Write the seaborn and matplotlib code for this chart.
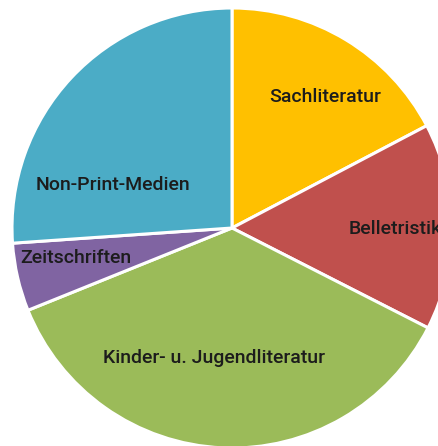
import numpy as np
import matplotlib.pyplot as plt
import seaborn as sns

categories = ["Sachliteratur", "Belletristik", "Kinder- u. Jugendliteratur",
              "Zeitschriften", "Non-Print-Medien"]
shares = [17.3, 15.2, 36.4, 5.0, 26.1]
colors = ["#FFC000", "#C0504D", "#9BBB59", "#8064A2", "#4BACC6"]

# where the labels sit (data units, pie radius = 1)
label_pos = [(0.423, 0.595), (0.532, -0.005), (-0.08, -0.59), (-0.709, -0.136), (-0.541, 0.195)]
label_ha = ["center", "left", "center", "center", "center"]


def main():
    sns.set_style("white")
    plt.rcParams['font.family'] = ['Roboto', 'DejaVu Sans']

    fig = plt.figure(figsize=(4.39, 4.46), dpi=100)
    ax = fig.add_axes([0, 0, 1, 1])
    wedges, texts = ax.pie(shares, labels=categories, colors=sns.color_palette(colors),
                           startangle=90, counterclock=False, radius=1.0,
                           wedgeprops=dict(edgecolor="white", linewidth=2.2),
                           labeldistance=0.6)
    for t, (x, y), ha in zip(texts, label_pos, label_ha):
        t.set_position((x, y))
        t.set_ha(ha)
        t.set_va("center")
        t.set_fontsize(14)
        t.set_fontweight("medium")
        t.set_color("#1c1c1c")

    # center sits at (232, 228) px, radius 220 px
    ax.set_xlim(-232 / 220, (439 - 232) / 220)
    ax.set_ylim(-(446 - 228) / 220, 228 / 220)
    ax.set_aspect("auto")
    ax.axis("off")
    fig.savefig("out.png", dpi=100)


if __name__ == "__main__":
    main()
